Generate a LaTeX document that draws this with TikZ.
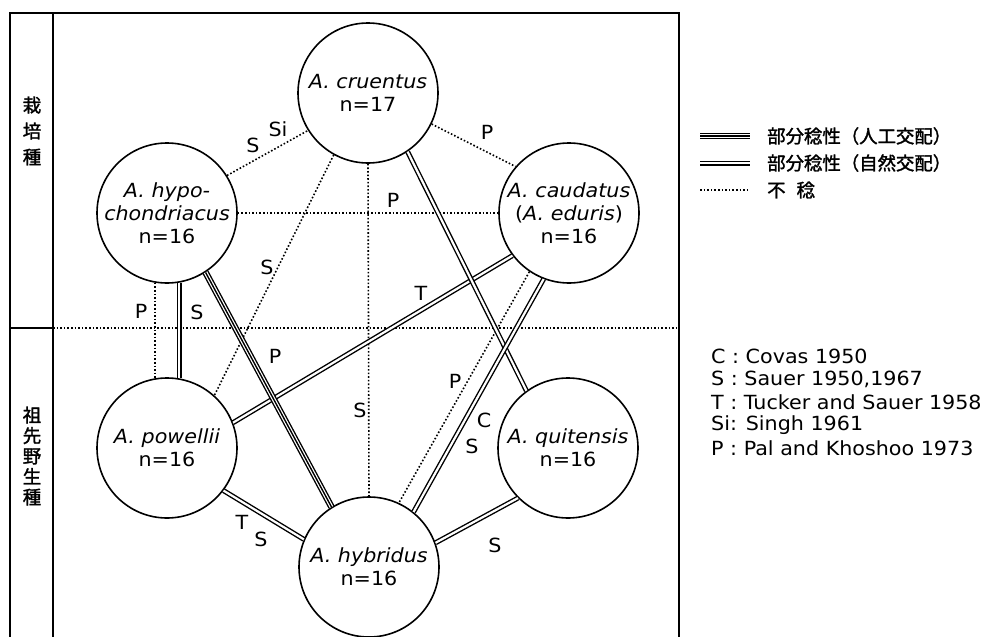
\documentclass[tikz,border=0pt]{standalone}
\usepackage{fontspec}
\setmainfont{DejaVu Sans}[FakeStretch=1.06]
\newfontfamily\cjk{Noto Sans CJK JP}[FakeBold=1.6]
\begin{document}
\begin{tikzpicture}[x=1pt,y=-1pt,
  sp/.style={circle, draw, line width=1.6pt, minimum size=140pt, inner sep=0pt, align=center, font=\fontsize{19.5}{23}\selectfont},
  lbl/.style={font=\fontsize{19.5}{23}\selectfont, inner sep=0pt},
  ref/.style={font=\fontsize{19.5}{23}\selectfont, inner sep=0pt, anchor=west},
  cjkl/.style={font=\cjk\fontsize{18.4}{20}\selectfont, inner sep=0pt, anchor=west},
  side/.style={font=\cjk\fontsize{18.5}{26}\selectfont, inner sep=0pt, align=center},
  dot/.style={line width=1.6pt, dash pattern=on 1.6pt off 2pt},
  dbl/.style={double, double distance=2.2pt, line width=1.4pt},
  trp/.style={line width=6.6pt, postaction={draw=white, line width=3.8pt}, postaction={draw=black, line width=1.4pt}},
  frame/.style={line width=2.2pt}]
\useasboundingbox (0,0) rectangle (985,637);

% frame
\draw[frame] (10,637) -- (10,13) -- (679,13) -- (679,637);
\draw[frame] (53,13) -- (53,637);
\draw[frame] (10,328) -- (53,328);
\draw[dot] (53,328) -- (679,328);

\node[side] (cult) at (32,131) {栽\\培\\種};
\node[side, font=\cjk\fontsize{18.5}{20.5}\selectfont] (wild) at (32,456) {祖\\先\\野\\生\\種};

% species
\node[sp] (cru) at (368,93) {{\itshape A. cruentus}\\n=17};
\node[sp] (hyp) at (167,213) {{\itshape A. hypo-}\\{\itshape chondriacus}\\n=16};
\node[sp] (cau) at (569,213) {{\itshape A. caudatus}\\({\itshape A. eduris})\\n=16};
\node[sp] (pow) at (167,448) {{\itshape A. powellii}\\n=16};
\node[sp] (qui) at (568,448) {{\itshape A. quitensis}\\n=16};
\node[sp] (hyb) at (369,567) {{\itshape A. hybridus}\\n=16};

% sterile (dotted)
\draw[dot] (hyp.32) -- (cru.212);
\draw[dot] (cru.-26) -- (cau.139);
\draw[dot] (hyp.0) -- (cau.180);
\draw[dot] (cru.241) -- (pow.48);
\draw[dot] (cru.-90) -- (hyb.90);
\draw[dot] (cau.236) -- (hyb.65);
\draw[dot] (hyp.-100) -- (pow.100);

% natural (double)
\draw[dbl] (hyp.-80) -- (pow.80);
\draw[dbl] (pow.21) -- (cau.217);
\draw[dbl] (cru.-56) -- (qui.126);
\draw[dbl] (cau.-111) -- (hyb.51);
\draw[dbl] (pow.-37) -- (hyb.157);
\draw[dbl] (qui.225) -- (hyb.20);

% artificial (triple)
\draw[trp] (hyp.-57) -- (hyb.122);

% labels
\node[lbl] (l1) at (253,145) {S};
\node[lbl] (l2) at (278,129) {Si};
\node[lbl] (l3) at (487,132) {P};
\node[lbl] (l4) at (393,200) {P};
\node[lbl] (l5) at (267,267) {S};
\node[lbl] (l6) at (141,311) {P};
\node[lbl] (l7) at (197,312) {S};
\node[lbl] (l8) at (275,356) {P};
\node[lbl] (l9) at (421,293) {T};
\node[lbl] (l10) at (360,410) {S};
\node[lbl] (l11) at (455,381) {P};
\node[lbl] (l12) at (484,420) {C};
\node[lbl] (l13) at (472,446) {S};
\node[lbl] (l14) at (242,522) {T};
\node[lbl] (l15) at (261,539) {S};
\node[lbl] (l16) at (495,545) {S};

% legend
\coordinate (a1) at (700,136); \coordinate (b1) at (750,136);
\coordinate (a2) at (700,163); \coordinate (b2) at (750,163);
\coordinate (a3) at (700,190); \coordinate (b3) at (750,190);
\draw[trp] (a1) -- (b1);
\draw[dbl] (a2) -- (b2);
\draw[dot] (a3) -- (b3);
\node[cjkl] (t1) at (767,136) {部分稔性（人工交配）};
\node[cjkl] (t2) at (767,163) {部分稔性（自然交配）};
\node[cjkl] (t3) at (767,190) {不\hspace{11pt}稔};

% references
\node[ref] (r1) at (711,356) {C : Covas 1950};
\node[ref] (r2) at (711,379) {S : Sauer 1950,1967};
\node[ref] (r3) at (711,402) {T : Tucker and Sauer 1958};
\node[ref] (r4) at (711,425) {Si: Singh 1961};
\node[ref] (r5) at (711,448) {P : Pal and Khoshoo 1973};
\end{tikzpicture}
\end{document}
